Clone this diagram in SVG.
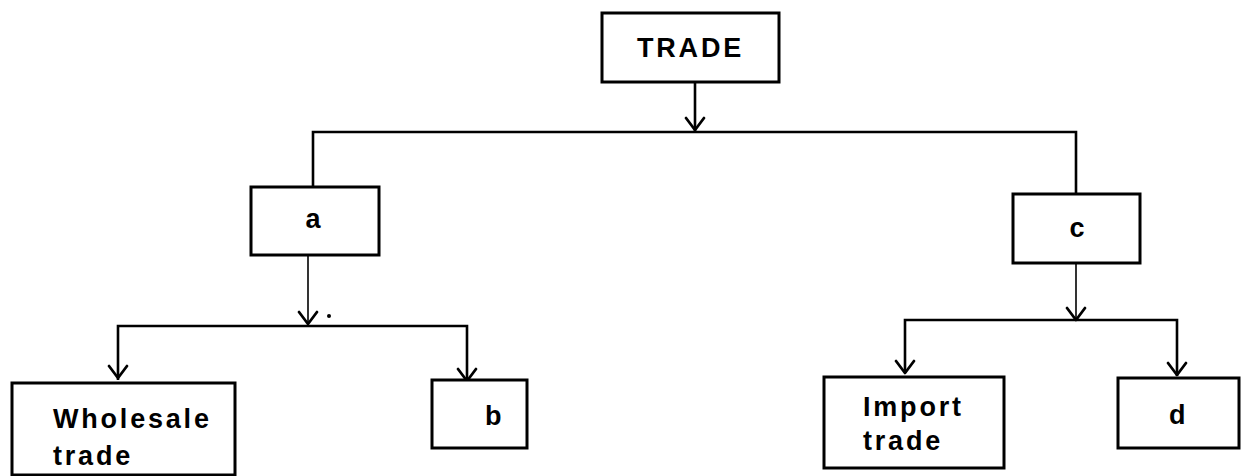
<svg xmlns="http://www.w3.org/2000/svg" width="1241" height="476" viewBox="0 0 1241 476">
<style>
.box{fill:#fff;stroke:#000;stroke-width:3}
.t{font-family:"Liberation Sans",Arial,sans-serif;font-weight:bold;font-size:27px;fill:#000;letter-spacing:2.8px}
.c{fill:none;stroke:#000;stroke-width:2.6}
.thin{fill:none;stroke:#000;stroke-width:1.6}
.ah{fill:none;stroke:#000;stroke-width:2.8;stroke-linecap:round;stroke-linejoin:round}
</style>
<rect width="1241" height="476" fill="#fff"/>
<g id="connectors">
<path class="c" d="M695,82 V133"/>
<path class="ah" d="M686,118 L695,130 L704,118"/>
<path class="c" d="M313,187 V132 H1076 V194"/>
<path class="thin" d="M308,255 V324"/>
<path class="ah" d="M299,312 L308,324 L317,312"/>
<circle cx="329" cy="316" r="2" fill="#000"/>
<path class="c" d="M118,380 V326 H467 V382"/>
<path class="ah" d="M109,366 L118,378 L127,366"/>
<path class="ah" d="M458,369 L467,381 L476,369"/>
<path class="thin" d="M1076,263 V320"/>
<path class="ah" d="M1067,308 L1076,320 L1085,308"/>
<path class="c" d="M905,373 V320 H1177 V376"/>
<path class="ah" d="M896,361 L905,373 L914,361"/>
<path class="ah" d="M1168,363 L1177,375 L1186,363"/>
</g>
<g id="trade">
<rect class="box" x="602" y="13" width="177" height="69"/>
<text class="t" x="637" y="57">TRADE</text>
</g>
<g id="a">
<rect class="box" x="251" y="187" width="128" height="68"/>
<text class="t" x="305.5" y="228">a</text>
</g>
<g id="c">
<rect class="box" x="1013" y="194" width="127" height="69"/>
<text class="t" x="1069.5" y="237">c</text>
</g>
<g id="wholesale">
<rect class="box" x="12" y="383" width="223" height="92"/>
<text class="t" x="53" y="428">Wholesale</text>
<text class="t" x="53" y="465">trade</text>
</g>
<g id="b">
<rect class="box" x="432" y="380" width="95" height="68"/>
<text class="t" x="485" y="425">b</text>
</g>
<g id="import">
<rect class="box" x="824" y="377" width="180" height="91"/>
<text class="t" x="863" y="416">Import</text>
<text class="t" x="863" y="450">trade</text>
</g>
<g id="d">
<rect class="box" x="1118" y="378" width="121" height="70"/>
<text class="t" x="1169" y="424">d</text>
</g>
</svg>
